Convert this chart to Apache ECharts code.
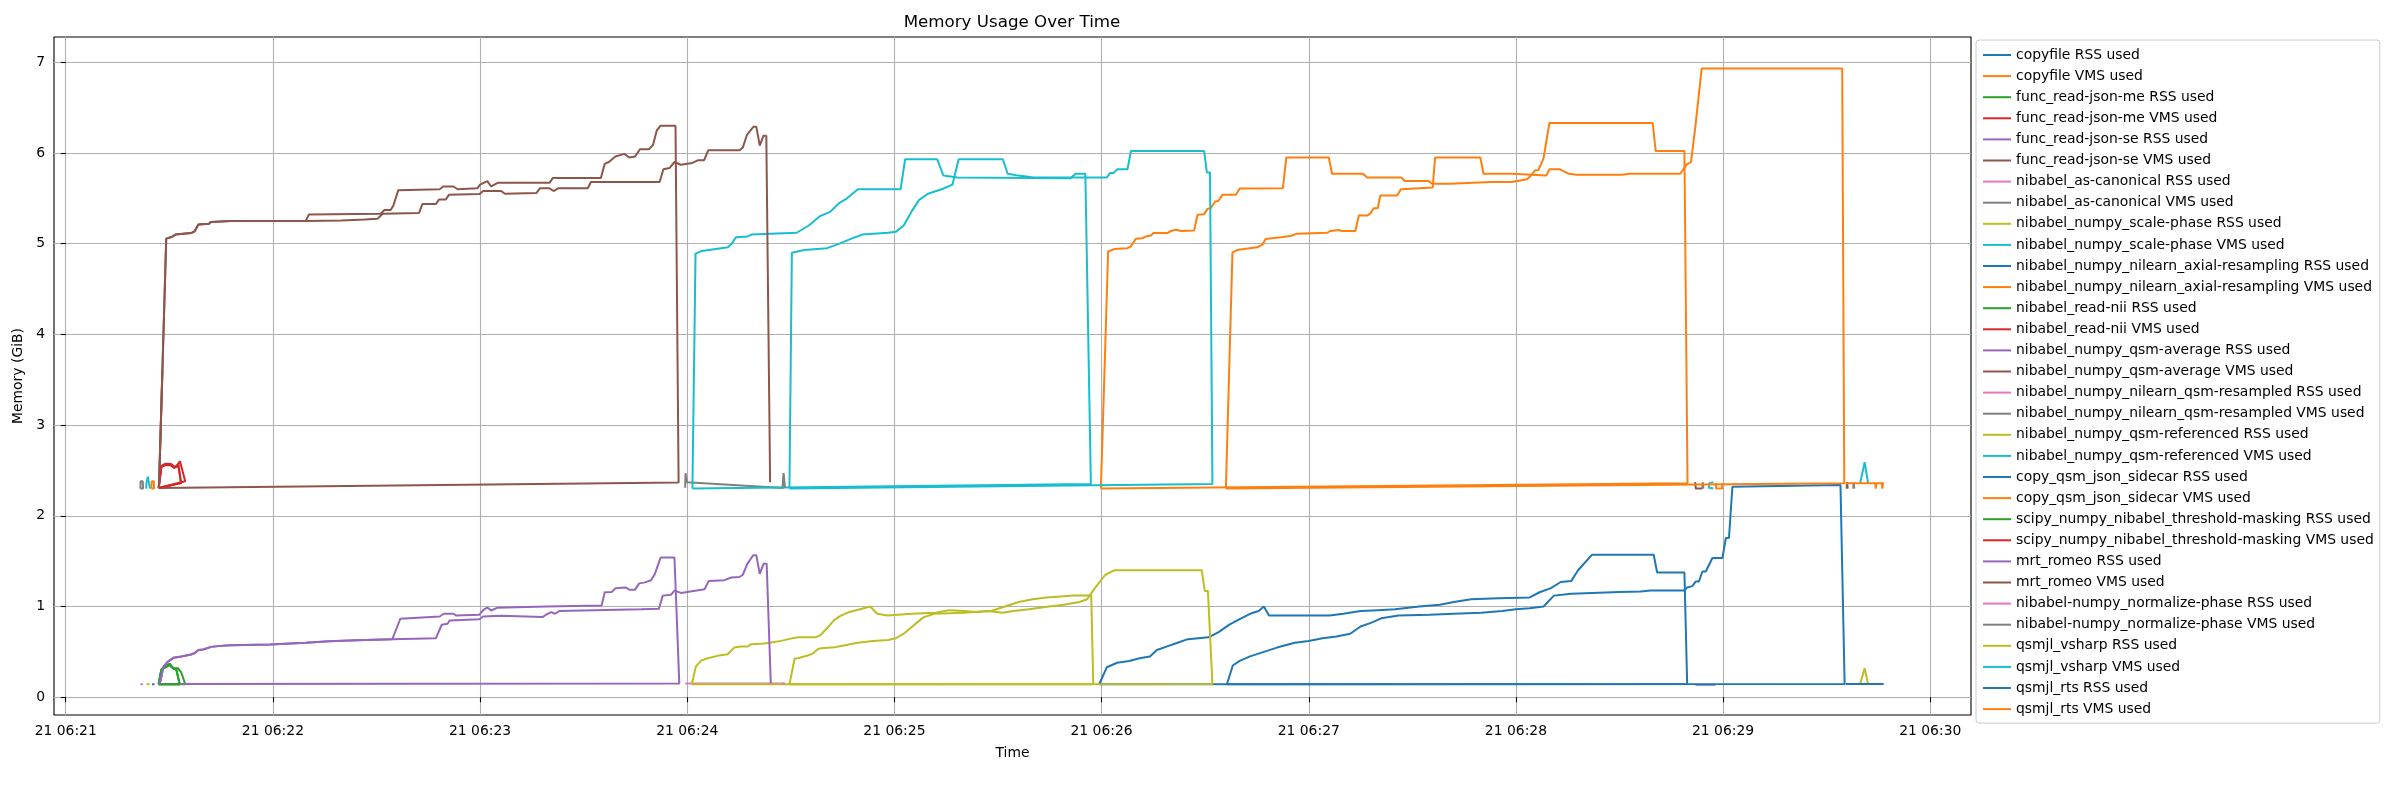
<!DOCTYPE html>
<html><head><meta charset="utf-8">
<script src="https://cdn.jsdelivr.net/npm/echarts@6/dist/echarts.min.js"></script>
<style>html,body{margin:0;padding:0;background:#fff}#c{width:2400px;height:800px}</style>
</head><body><div id="c"></div>
<script>
// time = seconds after 21 06:21:00, value = GiB
const xTickSeconds = [0,60,120,180,240,300,360,420,480,540];
const xTickLabels = ['21 06:21','21 06:22','21 06:23','21 06:24','21 06:25','21 06:26','21 06:27','21 06:28','21 06:29','21 06:30'];
const yTicks = [0,1,2,3,4,5,6,7];
const palette = ['#1f77b4','#ff7f0e','#2ca02c','#d62728','#9467bd','#8c564b','#e377c2','#7f7f7f','#bcbd22','#17becf'];

const copyfileRss = [[25.0,0.143],[25.7,0.143]];
const copyfileVms = [[24.8,2.30],[24.9,2.38],[25.5,2.38],[25.6,2.30],[24.8,2.30]];
const jsonMeRss = [[26.9,0.143],[27.7,0.31],[28.9,0.34],[30.1,0.37],[31.1,0.32],[32.5,0.32],[33.5,0.27],[34.6,0.143],[26.9,0.143]];
const jsonMeVms = [[26.9,2.307],[27.7,2.55],[28.9,2.575],[30.5,2.57],[31.4,2.54],[32.1,2.55],[33.1,2.60],[34.6,2.38],[26.9,2.307]];
const jsonSeRss = [[27.2,0.146],[27.8,0.25],[27.2,0.146],null,[472.0,0.138],[477.8,0.138]];
const jsonSeVms = [[27.0,2.306],[28.0,3.6],[27.0,2.306],null,[471.9,2.37],[472.1,2.30],[474.0,2.30],null,[515.8,2.30],[515.9,2.37],[516.1,2.30]];
const asCanonRss = [[21.6,0.143],[22.4,0.143]];
const asCanonVms = [[21.6,2.30],[21.7,2.38],[22.3,2.38],[22.4,2.30],[21.6,2.30],null,[474.0,2.30],[474.1,2.37],[474.3,2.30],null,[517.7,2.30],[517.8,2.37],[518.0,2.30]];
const scalePhaseRss = [[23.4,0.143],[24.3,0.143],null,[519.7,0.147],[521.0,0.32],[522.0,0.147]];
const scalePhaseVms = [[23.3,2.30],[23.4,2.37],[23.7,2.37],[23.8,2.43],[24.0,2.43],[24.1,2.36],[24.3,2.36],[24.4,2.30],null,[477.2,2.37],[476.0,2.36],[475.9,2.31],[477.2,2.30],null,[519.7,2.36],[521.0,2.59],[522.0,2.36]];
const axialRss = [[299.3,0.143],[301.5,0.33],[304.5,0.38],[308,0.40],[311,0.43],[314,0.45],[316,0.52],[319,0.56],[322,0.60],[325,0.64],[328,0.65],[331,0.66],[334,0.72],[337,0.80],[340,0.86],[343,0.92],[345.5,0.95],[347,1.0],[348.5,0.9],[358,0.9],[366,0.9],[370,0.92],[375,0.95],[380,0.96],[385,0.97],[392,1.0],[398,1.02],[402,1.05],[407,1.08],[415,1.09],[424,1.10],[427,1.16],[430,1.2],[433,1.27],[436,1.28],[438,1.40],[442,1.57],[459.9,1.57],[460.9,1.375],[468.8,1.375],[469.6,0.147],[299.3,0.143]];
const axialVms = [[299.8,2.30],[301.9,4.914],[303.7,4.94],[307.5,4.95],[308.5,4.97],[309.9,5.054],[311.9,5.06],[312.8,5.08],[314.3,5.09],[315.0,5.116],[319.1,5.116],[320.1,5.14],[321.5,5.153],[323.0,5.14],[326.8,5.146],[327.8,5.318],[329.7,5.325],[330.7,5.384],[331.6,5.39],[332.9,5.465],[333.8,5.47],[335.0,5.538],[338.9,5.538],[340.0,5.608],[352.5,5.61],[353.5,5.95],[365.8,5.95],[366.75,5.77],[375.7,5.77],[376.9,5.73],[386.8,5.73],[387.8,5.69],[394.7,5.69],[395.7,5.66],[401.0,5.66],[412.6,5.68],[418.8,5.68],[423.2,5.71],[424.1,5.74],[425.6,5.81],[426.5,5.81],[428.0,5.94],[429.7,6.33],[459.6,6.33],[460.5,6.02],[468.8,6.02],[469.7,2.36],[299.8,2.30]];
const readNiiRss = [[26.9,0.143],[27.7,0.30],[28.9,0.33],[30.1,0.36],[31.1,0.32],[32.0,0.31],[33.0,0.143],[26.9,0.143]];
const readNiiVms = [[26.9,2.307],[27.7,2.54],[28.9,2.565],[30.5,2.56],[31.4,2.53],[32.1,2.545],[32.6,2.57],[33.4,2.36],[26.9,2.307]];
const qsmAvgRss = [[27.2,0.146],[28.3,0.336],[29.5,0.39],[31.2,0.434],[33.5,0.45],[36.3,0.47],[37.5,0.49],[38.4,0.52],[39.8,0.526],[42.1,0.555],[44.9,0.566],[47.8,0.573],[59.2,0.58],[69.5,0.60],[76.3,0.617],[84.3,0.628],[94.6,0.64],[96.9,0.865],[108.3,0.89],[109.5,0.92],[112.3,0.92],[113.1,0.90],[119.8,0.91],[120.9,0.96],[122.1,0.99],[123.2,0.956],[124.9,0.985],[139.2,1.0],[155.2,1.01],[156.1,1.157],[158.1,1.16],[159.2,1.2],[162.1,1.21],[163.2,1.186],[164.9,1.186],[166.1,1.255],[167.8,1.266],[169.5,1.29],[170.6,1.357],[172.3,1.54],[176.3,1.54],[177.7,0.15],[27.2,0.146]];
const qsmAvgVms = [[27.0,2.306],[29.1,5.055],[30.6,5.073],[31.8,5.1],[36.3,5.117],[37.3,5.135],[38.4,5.21],[41.5,5.22],[42.1,5.24],[47.8,5.25],[69.5,5.25],[70.4,5.32],[91.2,5.33],[92.3,5.37],[94.1,5.37],[94.9,5.42],[96.3,5.59],[108.3,5.6],[109.3,5.63],[112.3,5.63],[113.5,5.6],[119.2,5.61],[120.0,5.65],[122.1,5.69],[123.2,5.63],[125.1,5.67],[140.1,5.67],[141.1,5.725],[155.0,5.725],[156.1,5.88],[157.3,5.9],[159.2,5.96],[161.8,5.99],[163.2,5.95],[164.9,5.96],[166.3,6.04],[168.9,6.04],[170.1,6.09],[171.2,6.25],[172.3,6.3],[176.6,6.3],[177.5,2.368],[27.0,2.306]];
const qsmResRss = [[179.4,0.15],[208.3,0.15]];
const qsmResVms = [[179.4,2.31],[179.5,2.47],[179.9,2.37],[207.9,2.307]];
const qsmRefRss = [[181.3,0.143],[182.5,0.338],[184.0,0.404],[185.9,0.43],[188.8,0.456],[191.7,0.474],[193.6,0.547],[195.6,0.559],[197.5,0.559],[198.5,0.585],[202.3,0.592],[204.3,0.603],[207.2,0.621],[209.6,0.643],[212.0,0.662],[217.3,0.662],[218.7,0.688],[220.5,0.76],[222.5,0.85],[224.5,0.90],[227,0.94],[230,0.97],[233,1.0],[235,0.92],[238,0.9],[245,0.92],[252,0.93],[256,0.96],[260,0.95],[264,0.94],[268,0.95],[272,1.0],[276,1.05],[280,1.08],[284,1.1],[288,1.11],[292,1.12],[296,1.12],[297.0,1.13],[297.6,0.143],[181.3,0.143]];
const qsmRefVms = [[181.5,2.30],[182.4,4.89],[184.3,4.92],[191.8,4.96],[192.9,5.0],[194.1,5.07],[197.5,5.08],[198.6,5.10],[204.1,5.11],[211.7,5.12],[215.2,5.2],[218.3,5.3],[221.4,5.35],[224.1,5.45],[226.3,5.5],[229.4,5.6],[241.8,5.6],[243.1,5.93],[252.4,5.93],[254.2,5.75],[258.2,5.73],[291.0,5.72],[292.5,5.77],[295.3,5.77],[295.8,5.75],[296.9,2.35],[181.5,2.30]];
const copyQsmRss = [[515.5,0.147],[526.5,0.147]];
const copyQsmVms = [[477.9,2.36],[478.0,2.30],[479.7,2.30],[479.8,2.36],null,[515.5,2.36],[524.1,2.36],[524.2,2.30],[524.4,2.36],[526.0,2.36],[526.1,2.30],[526.3,2.36],[526.6,2.36]];
const threshRss = [[26.9,0.143],[27.7,0.30],[28.9,0.33],[30.1,0.355],[31.1,0.315],[32.0,0.305],[33.0,0.143],[26.9,0.143]];
const threshVms = [[26.9,2.307],[27.7,2.54],[28.9,2.56],[30.5,2.555],[31.4,2.53],[32.1,2.54],[32.6,2.565],[33.4,2.36],[26.9,2.307]];
const romeoRss = [[27.2,0.146],[28.3,0.336],[29.5,0.39],[31.2,0.434],[33.5,0.45],[36.3,0.47],[37.5,0.49],[38.4,0.52],[39.8,0.526],[42.1,0.555],[44.9,0.566],[47.8,0.573],[59.2,0.58],[69.5,0.60],[76.3,0.617],[84.3,0.628],[94.6,0.64],[107.2,0.65],[108.9,0.80],[110.6,0.81],[111.2,0.847],[119.8,0.86],[120.9,0.89],[126.1,0.898],[138.1,0.883],[139.2,0.912],[140.6,0.938],[141.7,0.92],[142.9,0.95],[166.6,0.97],[171.8,0.975],[172.9,1.12],[175.3,1.13],[176.3,1.175],[178.2,1.15],[185.0,1.19],[186.2,1.28],[190.8,1.29],[192.7,1.32],[195.1,1.325],[196.1,1.35],[197.4,1.47],[199.1,1.565],[200.0,1.565],[201.0,1.36],[202.1,1.47],[203.0,1.47],[204.2,0.15]];
const romeoVms = [[27.0,2.306],[29.1,5.055],[30.6,5.073],[31.8,5.1],[36.3,5.117],[37.3,5.135],[38.4,5.21],[41.5,5.22],[42.1,5.24],[47.8,5.25],[69.5,5.25],[79.8,5.256],[86.6,5.267],[90.3,5.275],[91.8,5.33],[102.3,5.337],[103.3,5.436],[107.2,5.436],[108.1,5.487],[110.1,5.487],[111.0,5.54],[119.8,5.546],[120.9,5.58],[126.1,5.58],[127.2,5.55],[136.3,5.557],[137.3,5.61],[140.1,5.61],[141.3,5.58],[142.6,5.61],[151.2,5.61],[152.1,5.68],[172.0,5.68],[173.1,5.82],[174.9,5.835],[176.3,5.9],[178.1,5.87],[181.5,5.89],[183.2,5.92],[184.9,5.92],[186.1,6.03],[195.2,6.03],[196.1,6.06],[197.3,6.2],[199.2,6.29],[200.0,6.29],[201.0,6.08],[202.1,6.19],[202.9,6.19],[204.0,2.37]];
const normPhaseRss = [[207.5,0.15],[208.3,0.15]];
const normPhaseVms = [[207.6,2.31],[207.9,2.47],[208.3,2.31]];
const vsharpRss = [[209.6,0.143],[211.1,0.426],[212.0,0.43],[214.9,0.46],[216.3,0.48],[217.8,0.53],[218.7,0.54],[222.7,0.55],[229.4,0.6],[233.8,0.62],[238.2,0.63],[240.4,0.65],[242.7,0.7],[245.8,0.8],[248.4,0.88],[251.5,0.92],[260.4,0.93],[267.0,0.95],[271.4,0.93],[274.5,0.95],[279.0,0.97],[284.7,1.0],[289.1,1.02],[293.6,1.05],[295.8,1.08],[298.0,1.2],[301.1,1.35],[303.8,1.4],[329.0,1.4],[329.9,1.17],[330.8,1.17],[332.1,0.147],[209.6,0.143]];
const vsharpVms = [[209.6,2.30],[210.3,4.9],[213.9,4.93],[220.5,4.95],[224.1,5.0],[227.2,5.05],[230.7,5.1],[238.2,5.12],[240.4,5.13],[242.7,5.2],[244.9,5.35],[247.1,5.48],[249.7,5.55],[253.7,5.6],[256.8,5.65],[258.6,5.93],[271.4,5.93],[272.8,5.77],[275.9,5.75],[280.3,5.73],[301.5,5.73],[302.5,5.78],[303.5,5.78],[304.6,5.82],[307.5,5.82],[308.5,6.02],[329.7,6.02],[330.5,5.785],[331.4,5.785],[332.1,2.35],[209.6,2.30]];
const rtsRss = [[336.3,0.143],[338,0.35],[340,0.4],[343,0.45],[347,0.5],[351,0.55],[356,0.6],[360,0.62],[364,0.65],[368,0.67],[372,0.7],[375,0.78],[378,0.82],[381,0.87],[386,0.9],[395,0.91],[402,0.92],[410,0.93],[416,0.95],[420,0.97],[424,0.98],[428,1.0],[431,1.12],[436,1.14],[442,1.15],[450,1.16],[456.1,1.165],[459.0,1.176],[468.8,1.176],[469.6,1.21],[471.1,1.225],[472.1,1.276],[473.0,1.276],[474.0,1.386],[475.0,1.386],[476.9,1.534],[479.8,1.534],[480.8,1.755],[481.7,1.755],[482.7,2.32],[514.0,2.34],[515.2,0.147],[336.3,0.143]];
const rtsVms = [[336.0,2.30],[337.9,4.90],[339.3,4.93],[341.3,4.94],[345.1,4.96],[346.6,4.99],[347.5,5.05],[351.9,5.07],[354.7,5.085],[356.6,5.11],[365.3,5.12],[366.3,5.14],[368.7,5.15],[369.6,5.14],[373.5,5.14],[374.5,5.31],[376.9,5.31],[377.8,5.33],[378.8,5.39],[380.0,5.39],[380.7,5.53],[385.6,5.53],[386.7,5.60],[395.9,5.62],[396.6,5.95],[409.7,5.95],[410.6,5.77],[418.8,5.77],[419.3,5.75],[428.8,5.75],[429.7,5.82],[432.8,5.82],[435.3,5.77],[437.5,5.76],[450.8,5.76],[453,5.77],[467.6,5.77],[469.4,5.87],[470.7,5.9],[472.0,6.3],[473.8,6.93],[514.5,6.93],[515.1,2.36],[336.0,2.30]];

const seriesNames = [
 'copyfile RSS used','copyfile VMS used',
 'func_read-json-me RSS used','func_read-json-me VMS used',
 'func_read-json-se RSS used','func_read-json-se VMS used',
 'nibabel_as-canonical RSS used','nibabel_as-canonical VMS used',
 'nibabel_numpy_scale-phase RSS used','nibabel_numpy_scale-phase VMS used',
 'nibabel_numpy_nilearn_axial-resampling RSS used','nibabel_numpy_nilearn_axial-resampling VMS used',
 'nibabel_read-nii RSS used','nibabel_read-nii VMS used',
 'nibabel_numpy_qsm-average RSS used','nibabel_numpy_qsm-average VMS used',
 'nibabel_numpy_nilearn_qsm-resampled RSS used','nibabel_numpy_nilearn_qsm-resampled VMS used',
 'nibabel_numpy_qsm-referenced RSS used','nibabel_numpy_qsm-referenced VMS used',
 'copy_qsm_json_sidecar RSS used','copy_qsm_json_sidecar VMS used',
 'scipy_numpy_nibabel_threshold-masking RSS used','scipy_numpy_nibabel_threshold-masking VMS used',
 'mrt_romeo RSS used','mrt_romeo VMS used',
 'nibabel-numpy_normalize-phase RSS used','nibabel-numpy_normalize-phase VMS used',
 'qsmjl_vsharp RSS used','qsmjl_vsharp VMS used',
 'qsmjl_rts RSS used','qsmjl_rts VMS used'];
const seriesData = [copyfileRss,copyfileVms,jsonMeRss,jsonMeVms,jsonSeRss,jsonSeVms,asCanonRss,asCanonVms,
 scalePhaseRss,scalePhaseVms,axialRss,axialVms,readNiiRss,readNiiVms,qsmAvgRss,qsmAvgVms,qsmResRss,qsmResVms,
 qsmRefRss,qsmRefVms,copyQsmRss,copyQsmVms,threshRss,threshVms,romeoRss,romeoVms,normPhaseRss,normPhaseVms,
 vsharpRss,vsharpVms,rtsRss,rtsVms];

const FONT = 'DejaVu Sans';
const chart = echarts.init(document.getElementById('c'), null, {renderer:'canvas'});
chart.setOption({
  animation: false,
  backgroundColor: '#fff',
  color: palette,
  title: {
    text: 'Memory Usage Over Time', left: 1012, top: 13, textAlign: 'center', padding: 0,
    textStyle: {fontFamily: FONT, fontSize: 16.7, fontWeight: 'normal', color: '#000', lineHeight: 20}
  },
  grid: {left: 54, right: 429, top: 37, bottom: 85, show: true, borderColor: '#000', borderWidth: 1.1, backgroundColor: 'transparent'},
  legend: {
    orient: 'vertical', left: 1976, top: 40, padding: [7, 6, 6, 7],
    itemWidth: 28, itemHeight: 2, itemGap: 5.1, itemTextGap: 9, icon: 'rect',
    borderColor: '#cccccc', borderWidth: 1, borderRadius: 3, backgroundColor: 'rgba(255,255,255,0.8)',
    textStyle: {fontFamily: FONT, fontSize: 13.9, color: '#000', lineHeight: 16},
    data: seriesNames
  },
  xAxis: {
    type: 'value', min: -3.4, max: 551.8, minInterval: 60, maxInterval: 60,
    name: 'Time', nameLocation: 'middle', nameGap: 31,
    nameTextStyle: {fontFamily: FONT, fontSize: 13.9, color: '#000'},
    axisLine: {show: false},
    axisTick: {show: true, length: 5, lineStyle: {color: '#000', width: 1.1}, customValues: xTickSeconds},
    axisLabel: {fontFamily: FONT, fontSize: 13.9, color: '#000', margin: 9, customValues: xTickSeconds,
      formatter: v => { const i = xTickSeconds.indexOf(Math.round(v)); return i >= 0 ? xTickLabels[i] : ''; }},
    splitLine: {show: true, lineStyle: {color: '#b0b0b0', width: 1.1}}
  },
  yAxis: {
    type: 'value', min: -0.196, max: 7.278, minInterval: 1, maxInterval: 1,
    name: 'Memory (GiB)', nameLocation: 'middle', nameGap: 21,
    nameTextStyle: {fontFamily: FONT, fontSize: 13.9, color: '#000'},
    axisLine: {show: false},
    axisTick: {show: true, length: 5, lineStyle: {color: '#000', width: 1.1}, customValues: yTicks},
    axisLabel: {fontFamily: FONT, fontSize: 13.9, color: '#000', margin: 9, customValues: yTicks,
      formatter: v => String(Math.round(v))},
    splitLine: {show: true, lineStyle: {color: '#b0b0b0', width: 1.1}}
  },
  series: seriesNames.map((name, i) => ({
    name, type: 'line', showSymbol: false, symbol: 'none', connectNulls: false, clip: true,
    lineStyle: {width: 2, color: palette[i % 10]}, itemStyle: {color: palette[i % 10]},
    emphasis: {disabled: true},
    data: seriesData[i].map(p => p === null ? ['-', '-'] : p)
  }))
});
</script></body></html>
